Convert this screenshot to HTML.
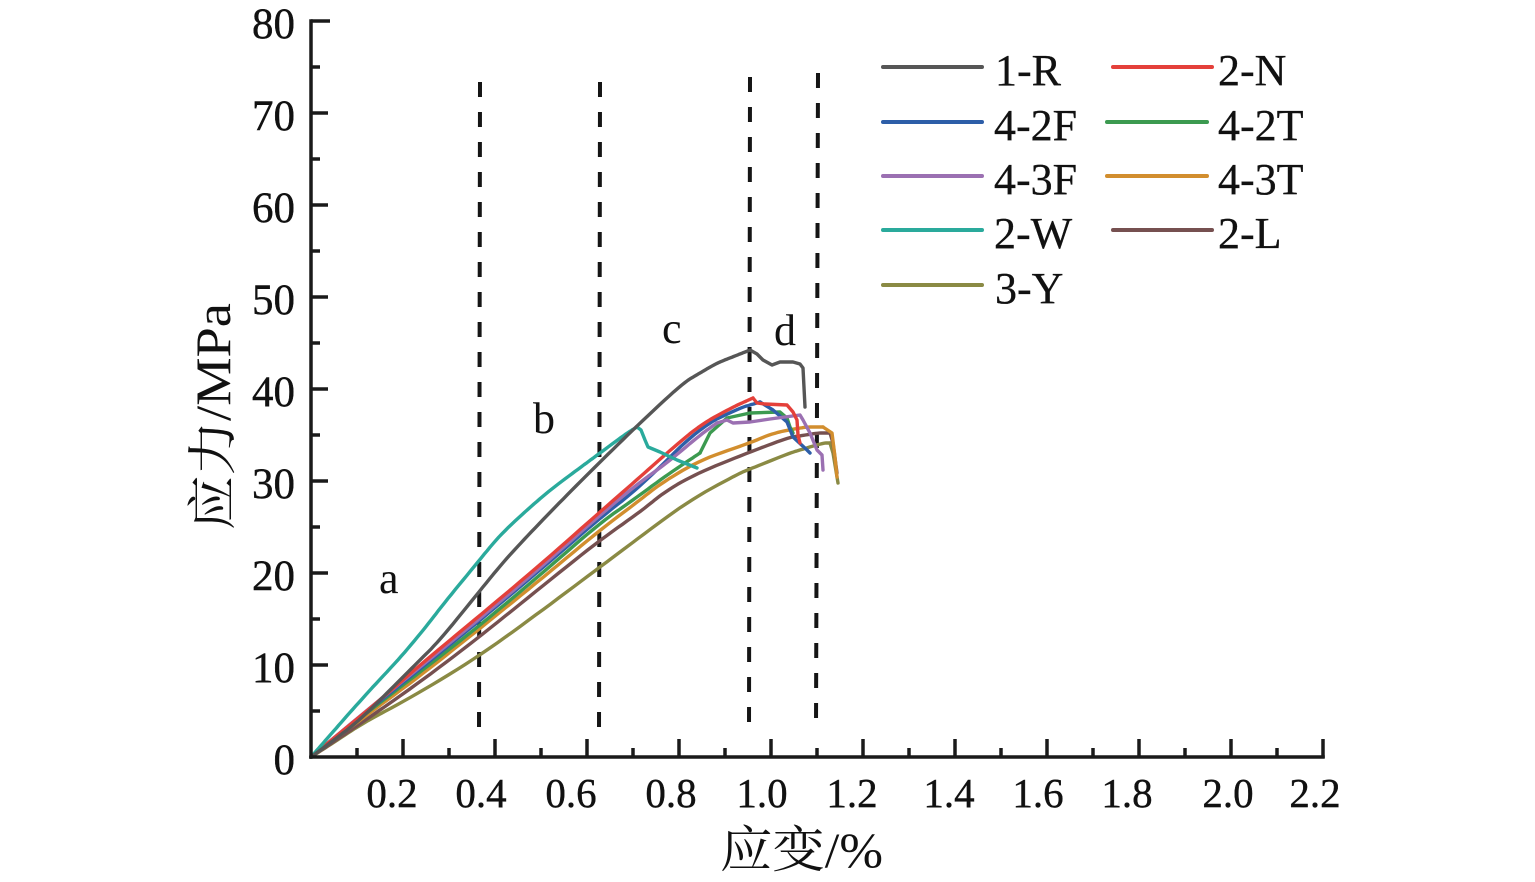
<!DOCTYPE html>
<html>
<head>
<meta charset="utf-8">
<style>
  html,body{margin:0;padding:0;background:#fff;}
  svg{display:block;}
  text{font-family:"Liberation Serif","Noto Serif CJK SC",serif;fill:#111;}
</style>
</head>
<body>
<svg width="1535" height="882" viewBox="0 0 1535 882" xmlns="http://www.w3.org/2000/svg">
  <rect width="1535" height="882" fill="#fff"/>

  <!-- dashed region lines -->
  <g stroke="#151515" stroke-width="4" stroke-dasharray="15 15" fill="none">
    <line x1="480" y1="82" x2="479" y2="735"/>
    <line x1="600" y1="82" x2="599" y2="735"/>
    <line x1="750" y1="77" x2="749" y2="735"/>
    <line x1="818" y1="73" x2="816" y2="730"/>
  </g>

  <!-- curves -->
  <g fill="none" stroke-width="3.4" stroke-linejoin="round" stroke-linecap="round">
    <!-- 3-Y olive -->
    <polyline class="sm" stroke="#8a8a44" points="311,757 336,741 363,723 412,697 478,657 540,612 600,567 640,537 690,500 740,473 750,469 790,453 800,450 823,443 830,443"/>
    <polyline stroke="#8a8a44" points="830,443 833,453 838,483"/>
    <!-- 2-L brown -->
    <polyline class="sm" stroke="#765050" points="311,757 360,724 420,682 478,638 540,588 600,540 640,512 667,490 700,472 750,452 790,437 800,436 817,433 830,433"/>
    <polyline stroke="#765050" points="830,433 833,443 837,473"/>
    <!-- 4-3T orange -->
    <polyline class="sm" stroke="#d28e2e" points="311,757 360,720 420,676 478,630 540,580 600,530 640,500 660,484 700,460 750,443 773,433 800,428 807,427 823,427"/>
    <polyline stroke="#d28e2e" points="823,427 832,433 835,457 837,477"/>
    <!-- 4-2T green -->
    <polyline class="sm" stroke="#3c9a50" points="311,757 360,718 420,672 478,627 540,575 600,523 633,500 667,475 700,453"/>
    <polyline stroke="#3c9a50" points="700,453 710,433 727,418 750,413 780,412 787,418 790,427 793,433"/>
    <!-- 4-2F blue -->
    <polyline class="sm" stroke="#2d5ea8" points="311,757 360,717 420,669 478,622 540,570 600,518 640,487 700,427 740,408 750,405 760,402"/>
    <polyline stroke="#2d5ea8" points="760,402 773,410 787,422 793,437 807,450 810,453"/>
    <!-- 4-3F purple -->
    <polyline class="sm" stroke="#9b70b2" points="311,757 360,716 420,667 478,620 540,568 600,515 640,482 667,463 700,435 717,423"/>
    <polyline stroke="#9b70b2" points="717,423 727,420 733,423 750,422 770,419 800,415 803,420 810,433 817,450 822,455 823,470"/>
    <!-- 2-N red -->
    <polyline class="sm" stroke="#e4403a" points="311,757 340,733 380,700 420,665 478,617 540,565 600,512 640,477 667,453 700,425 733,407 753,398"/>
    <polyline stroke="#e4403a" points="753,398 757,403 765,404 787,405 793,412 797,420 798,435 800,443"/>
    <!-- 2-W teal -->
    <polyline class="sm" stroke="#2aaa9c" points="311,757 325,741 345,718 370,690 400,658 425,628 445,602 477,563 500,535 527,510 550,490 577,470 600,453 627,433 637,427"/>
    <polyline stroke="#2aaa9c" points="637,427 641,430 645,440 648,447 660,452 677,460 697,468"/>
    <!-- 1-R gray -->
    <polyline class="sm" stroke="#565656" points="311,757 330,743 360,720 393,687 420,660 440,640 478,593 505,560 533,530 565,497 600,462 640,423 683,383 700,373 717,363 735,356 750,350"/>
    <polyline stroke="#565656" points="750,350 757,354 763,360 772,365 780,362 793,362 800,364 803,368 805,407"/>
  </g>

  <!-- axes -->
  <g stroke="#1a1a1a" stroke-width="3.5" fill="none" stroke-linecap="square">
    <line x1="311" y1="21" x2="311" y2="757"/>
    <line x1="311" y1="757" x2="1323" y2="757"/>
  </g>
  <g stroke="#1a1a1a" stroke-width="3.5" fill="none">
    <line x1="311" y1="21" x2="330" y2="21"/>
    <line x1="311" y1="113" x2="328" y2="113"/>
    <line x1="311" y1="205" x2="328" y2="205"/>
    <line x1="311" y1="297" x2="328" y2="297"/>
    <line x1="311" y1="389" x2="328" y2="389"/>
    <line x1="311" y1="481" x2="328" y2="481"/>
    <line x1="311" y1="573" x2="328" y2="573"/>
    <line x1="311" y1="665" x2="328" y2="665"/>
    <line x1="311" y1="67" x2="320" y2="67"/>
    <line x1="311" y1="159" x2="320" y2="159"/>
    <line x1="311" y1="251" x2="320" y2="251"/>
    <line x1="311" y1="343" x2="320" y2="343"/>
    <line x1="311" y1="435" x2="320" y2="435"/>
    <line x1="311" y1="527" x2="320" y2="527"/>
    <line x1="311" y1="619" x2="320" y2="619"/>
    <line x1="311" y1="711" x2="320" y2="711"/>
    <line x1="403" y1="757" x2="403" y2="739"/>
    <line x1="495" y1="757" x2="495" y2="739"/>
    <line x1="587" y1="757" x2="587" y2="739"/>
    <line x1="679" y1="757" x2="679" y2="739"/>
    <line x1="771" y1="757" x2="771" y2="739"/>
    <line x1="863" y1="757" x2="863" y2="739"/>
    <line x1="955" y1="757" x2="955" y2="739"/>
    <line x1="1047" y1="757" x2="1047" y2="739"/>
    <line x1="1139" y1="757" x2="1139" y2="739"/>
    <line x1="1231" y1="757" x2="1231" y2="739"/>
    <line x1="1323" y1="758" x2="1323" y2="739"/>
    <line x1="357" y1="757" x2="357" y2="748"/>
    <line x1="449" y1="757" x2="449" y2="748"/>
    <line x1="541" y1="757" x2="541" y2="748"/>
    <line x1="633" y1="757" x2="633" y2="748"/>
    <line x1="725" y1="757" x2="725" y2="748"/>
    <line x1="817" y1="757" x2="817" y2="748"/>
    <line x1="909" y1="757" x2="909" y2="748"/>
    <line x1="1001" y1="757" x2="1001" y2="748"/>
    <line x1="1093" y1="757" x2="1093" y2="748"/>
    <line x1="1185" y1="757" x2="1185" y2="748"/>
    <line x1="1277" y1="757" x2="1277" y2="748"/>
  </g>

  <!-- y tick labels -->
  <g font-size="43" text-anchor="end" stroke="#111" stroke-width="0.4">
    <text x="295" y="38">80</text>
    <text x="295" y="130">70</text>
    <text x="295" y="222">60</text>
    <text x="295" y="314">50</text>
    <text x="295" y="406">40</text>
    <text x="295" y="498">30</text>
    <text x="295" y="590">20</text>
    <text x="295" y="682">10</text>
    <text x="295" y="774">0</text>
  </g>

  <!-- x tick labels -->
  <g font-size="41" text-anchor="middle" stroke="#111" stroke-width="0.4">
    <text x="392" y="807">0.2</text>
    <text x="481" y="807">0.4</text>
    <text x="571" y="807">0.6</text>
    <text x="671" y="807">0.8</text>
    <text x="762" y="807">1.0</text>
    <text x="852" y="807">1.2</text>
    <text x="949" y="807">1.4</text>
    <text x="1038" y="807">1.6</text>
    <text x="1127" y="807">1.8</text>
    <text x="1228" y="807">2.0</text>
    <text x="1315" y="807">2.2</text>
  </g>

  <!-- axis titles -->
  <text x="720" y="867" font-size="50" textLength="163" lengthAdjust="spacingAndGlyphs">应变/%</text>
  <text transform="translate(230,530) rotate(-90)" x="0" y="0" font-size="50" textLength="227" lengthAdjust="spacingAndGlyphs">应力/MPa</text>

  <!-- region letters -->
  <g font-size="44">
    <text x="379" y="593">a</text>
    <text x="533" y="433">b</text>
    <text x="662" y="343">c</text>
    <text x="774" y="345">d</text>
  </g>

  <!-- legend -->
  <g stroke-width="4" stroke-linecap="round" fill="none">
    <line x1="883" y1="67" x2="982" y2="67" stroke="#565656"/>
    <line x1="883" y1="122" x2="982" y2="122" stroke="#2d5ea8"/>
    <line x1="883" y1="176" x2="982" y2="176" stroke="#9b70b2"/>
    <line x1="883" y1="230" x2="982" y2="230" stroke="#2aaa9c"/>
    <line x1="883" y1="285" x2="982" y2="285" stroke="#8a8a44"/>
    <line x1="1113" y1="67" x2="1212" y2="67" stroke="#e4403a"/>
    <line x1="1107" y1="122" x2="1207" y2="122" stroke="#3c9a50"/>
    <line x1="1107" y1="176" x2="1207" y2="176" stroke="#d28e2e"/>
    <line x1="1113" y1="230" x2="1212" y2="230" stroke="#765050"/>
  </g>
  <g font-size="44" stroke="#111" stroke-width="0.3">
    <text x="995" y="85">1-R</text>
    <text x="994" y="140">4-2F</text>
    <text x="994" y="194">4-3F</text>
    <text x="994" y="248">2-W</text>
    <text x="995" y="303">3-Y</text>
    <text x="1218" y="85">2-N</text>
    <text x="1218" y="140">4-2T</text>
    <text x="1218" y="194">4-3T</text>
    <text x="1218" y="248">2-L</text>
  </g>
</svg>
<script>
(function(){
  var pls = document.querySelectorAll('polyline.sm');
  for (var i = 0; i < pls.length; i++) {
    var raw = pls[i].getAttribute('points').trim().split(/\s+/).map(function(s){
      var a = s.split(','); return [parseFloat(a[0]), parseFloat(a[1])];
    });
    var pts = raw;
    for (var it = 0; it < 3; it++) {
      var out = [pts[0]];
      for (var k = 0; k < pts.length - 1; k++) {
        var p = pts[k], q = pts[k+1];
        out.push([0.75*p[0]+0.25*q[0], 0.75*p[1]+0.25*q[1]]);
        out.push([0.25*p[0]+0.75*q[0], 0.25*p[1]+0.75*q[1]]);
      }
      out.push(pts[pts.length-1]);
      pts = out;
    }
    pls[i].setAttribute('points', pts.map(function(p){return p[0].toFixed(1)+','+p[1].toFixed(1);}).join(' '));
  }
})();
</script>
</body>
</html>
